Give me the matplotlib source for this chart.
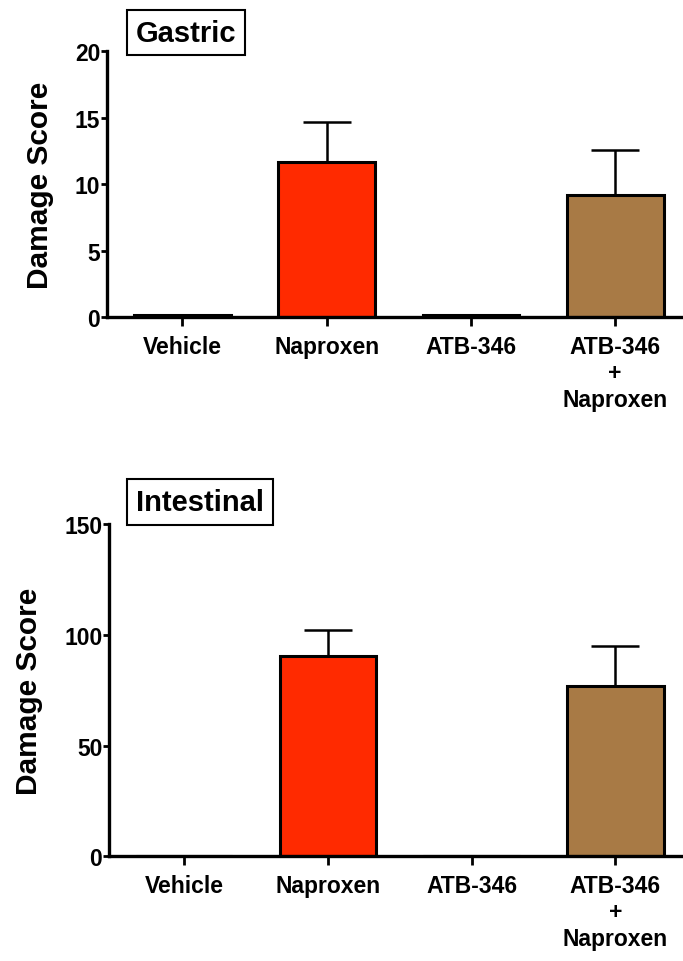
import matplotlib
matplotlib.use("Agg")
import matplotlib.pyplot as plt

plt.rcParams["font.family"] = ["Liberation Sans", "DejaVu Sans"]
plt.rcParams["font.weight"] = "bold"

groups = ["Vehicle", "Naproxen", "ATB-346", "ATB-346\n+\nNaproxen"]
colors = ["white", "#ff2a00", "white", "#a87a45"]

gastric_mean = [0.2, 11.7, 0.2, 9.2]
gastric_err = [0.0, 3.0, 0.0, 3.4]
intestinal_mean = [0.0, 90.4, 0.0, 76.8]
intestinal_err = [0.0, 11.8, 0.0, 18.1]

fig = plt.figure(figsize=(6.83, 9.62), dpi=100, facecolor="white")
ax1 = fig.add_axes([0.157, 0.669, 0.843, 0.277])
ax2 = fig.add_axes([0.160, 0.109, 0.840, 0.345])


def panel(ax, means, errs, ymax, ticks, title, title_xy):
    x = list(range(len(groups)))
    ax.bar(x, means, width=0.67, color=colors, edgecolor="black", linewidth=2.2, zorder=2)
    for xi, m, e in zip(x, means, errs):
        if e > 0:
            ax.errorbar(xi, m, yerr=[[0], [e]], fmt="none", ecolor="black",
                        elinewidth=1.8, capsize=17, capthick=1.8, zorder=1)
    ax.set_xlim(-0.52, 3.47)
    ax.set_ylim(0, ymax)
    ax.set_yticks(ticks)
    ax.set_xticks(x)
    ax.set_xticklabels(groups, fontsize=16.5, fontweight="bold", linespacing=1.2)
    ax.tick_params(axis="y", labelsize=16.5, width=2, length=4, pad=1)
    ax.tick_params(axis="x", width=2, length=6.5, pad=6)
    for lab in ax.get_yticklabels():
        lab.set_fontweight("bold")
    ax.spines["top"].set_visible(False)
    ax.spines["right"].set_visible(False)
    ax.spines["left"].set_linewidth(2.4)
    ax.spines["bottom"].set_linewidth(2.4)
    ax.set_ylabel("Damage Score", fontsize=21.5, fontweight="bold", labelpad=15)
    fig.text(title_xy[0], title_xy[1], title, fontsize=21, fontweight="bold",
             ha="center", va="center",
             bbox=dict(boxstyle="square,pad=0.3", facecolor="white", edgecolor="black", linewidth=1.5))


panel(ax1, gastric_mean, gastric_err, 20, [0, 5, 10, 15, 20], "Gastric", (0.272, 0.965))
panel(ax2, intestinal_mean, intestinal_err, 150, [0, 50, 100, 150], "Intestinal", (0.293, 0.477))

fig.savefig("out.png", dpi=100, facecolor="white")
